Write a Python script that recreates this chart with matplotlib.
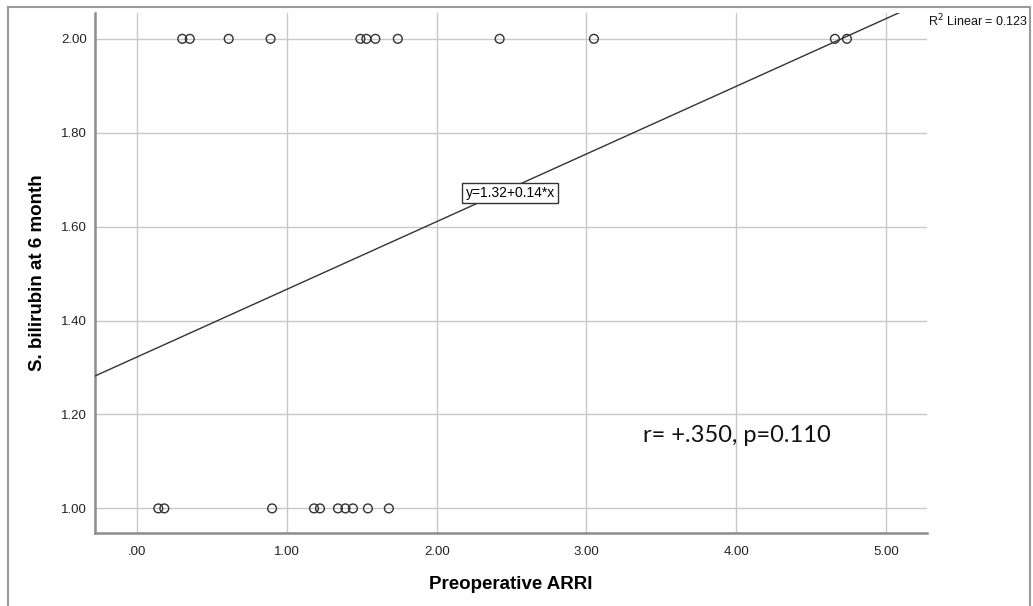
import numpy as np
import matplotlib
matplotlib.use("Agg")
import matplotlib.pyplot as plt
from matplotlib.lines import Line2D

# -----------------------
# Data
# -----------------------
arri_hi = [0.30, 0.35, 0.61, 0.89, 1.49, 1.53, 1.59, 1.74, 2.42, 3.05, 4.66, 4.74]
bili_hi = [2.00] * len(arri_hi)
arri_lo = [0.14, 0.18, 0.90, 1.18, 1.22, 1.34, 1.39, 1.44, 1.54, 1.68]
bili_lo = [1.00] * len(arri_lo)

fit_intercept = 1.3228
fit_slope = 0.144

x_ticks = [0, 1, 2, 3, 4, 5]
x_tick_labels = [".00", "1.00", "2.00", "3.00", "4.00", "5.00"]
y_ticks = [1.0, 1.2, 1.4, 1.6, 1.8, 2.0]
y_tick_labels = ["1.00", "1.20", "1.40", "1.60", "1.80", "2.00"]

x = np.array(arri_hi + arri_lo)
y = np.array(bili_hi + bili_lo)

# -----------------------
# Figure
# -----------------------
plt.rcParams["font.family"] = ["Liberation Sans", "DejaVu Sans"]

fig = plt.figure(figsize=(10.33, 6.06), dpi=100)
ax = fig.add_axes([95 / 1033, 1 - 533.3 / 606, (927.3 - 95) / 1033, (533.3 - 13) / 606])

xlim = (-0.283, 5.277)
ylim = (0.947, 2.055)
ax.set_xlim(*xlim)
ax.set_ylim(*ylim)

ax.set_xticks(x_ticks)
ax.set_xticklabels(x_tick_labels)
ax.set_yticks(y_ticks)
ax.set_yticklabels(y_tick_labels)
ax.tick_params(length=0, labelsize=9.5, colors="#222222")
ax.tick_params(axis="x", pad=9)
ax.tick_params(axis="y", pad=6)

ax.grid(True, color="#c8c8c8", linewidth=1.0)
ax.set_axisbelow(True)
for side in ["top", "right"]:
    ax.spines[side].set_visible(False)
for side in ["left", "bottom"]:
    ax.spines[side].set_color("#8c8c8c")
    ax.spines[side].set_linewidth(1.8)

# fit line across the axis range
xs = np.array(xlim)
ax.plot(xs, fit_intercept + fit_slope * xs, color="#333333", linewidth=1.0, zorder=3)

ax.scatter(x, y, s=40, facecolors="none", edgecolors="#333333", linewidths=1.0, zorder=4)

ax.set_xlabel("Preoperative ARRI", fontsize=13.5, fontweight="bold", labelpad=13)
ax.set_ylabel("S. bilirubin at 6 month", fontsize=13.5, fontweight="bold", labelpad=11)

ax.text(2.49, 1.672, "y=1.32+0.14*x", fontsize=10, ha="center", va="center", zorder=5,
        bbox=dict(boxstyle="square,pad=0.22", facecolor="white", edgecolor="#333333", linewidth=1.0))
ax.text(3.376, 1.156, "r= +.350, p=0.110", fontsize=17, ha="left", va="center",
        family=["Lato", "DejaVu Sans"], color="#111111")
fig.text(928 / 1033, 1 - 21 / 606, "R$^2$ Linear = 0.123", fontsize=9, ha="left", va="center",
         color="#111111")

# outer frame (open at the bottom, as in the screenshot)
frame_col = "#9a9a9a"
l, r, t = 7.5 / 1033, 1030 / 1033, 1 - 7.3 / 606
fig.add_artist(Line2D([l, l], [0, t], transform=fig.transFigure, color=frame_col, linewidth=1.5))
fig.add_artist(Line2D([r, r], [0, t], transform=fig.transFigure, color=frame_col, linewidth=1.5))
fig.add_artist(Line2D([l, r], [t, t], transform=fig.transFigure, color=frame_col, linewidth=1.5))

fig.savefig("out.png", dpi=100)
